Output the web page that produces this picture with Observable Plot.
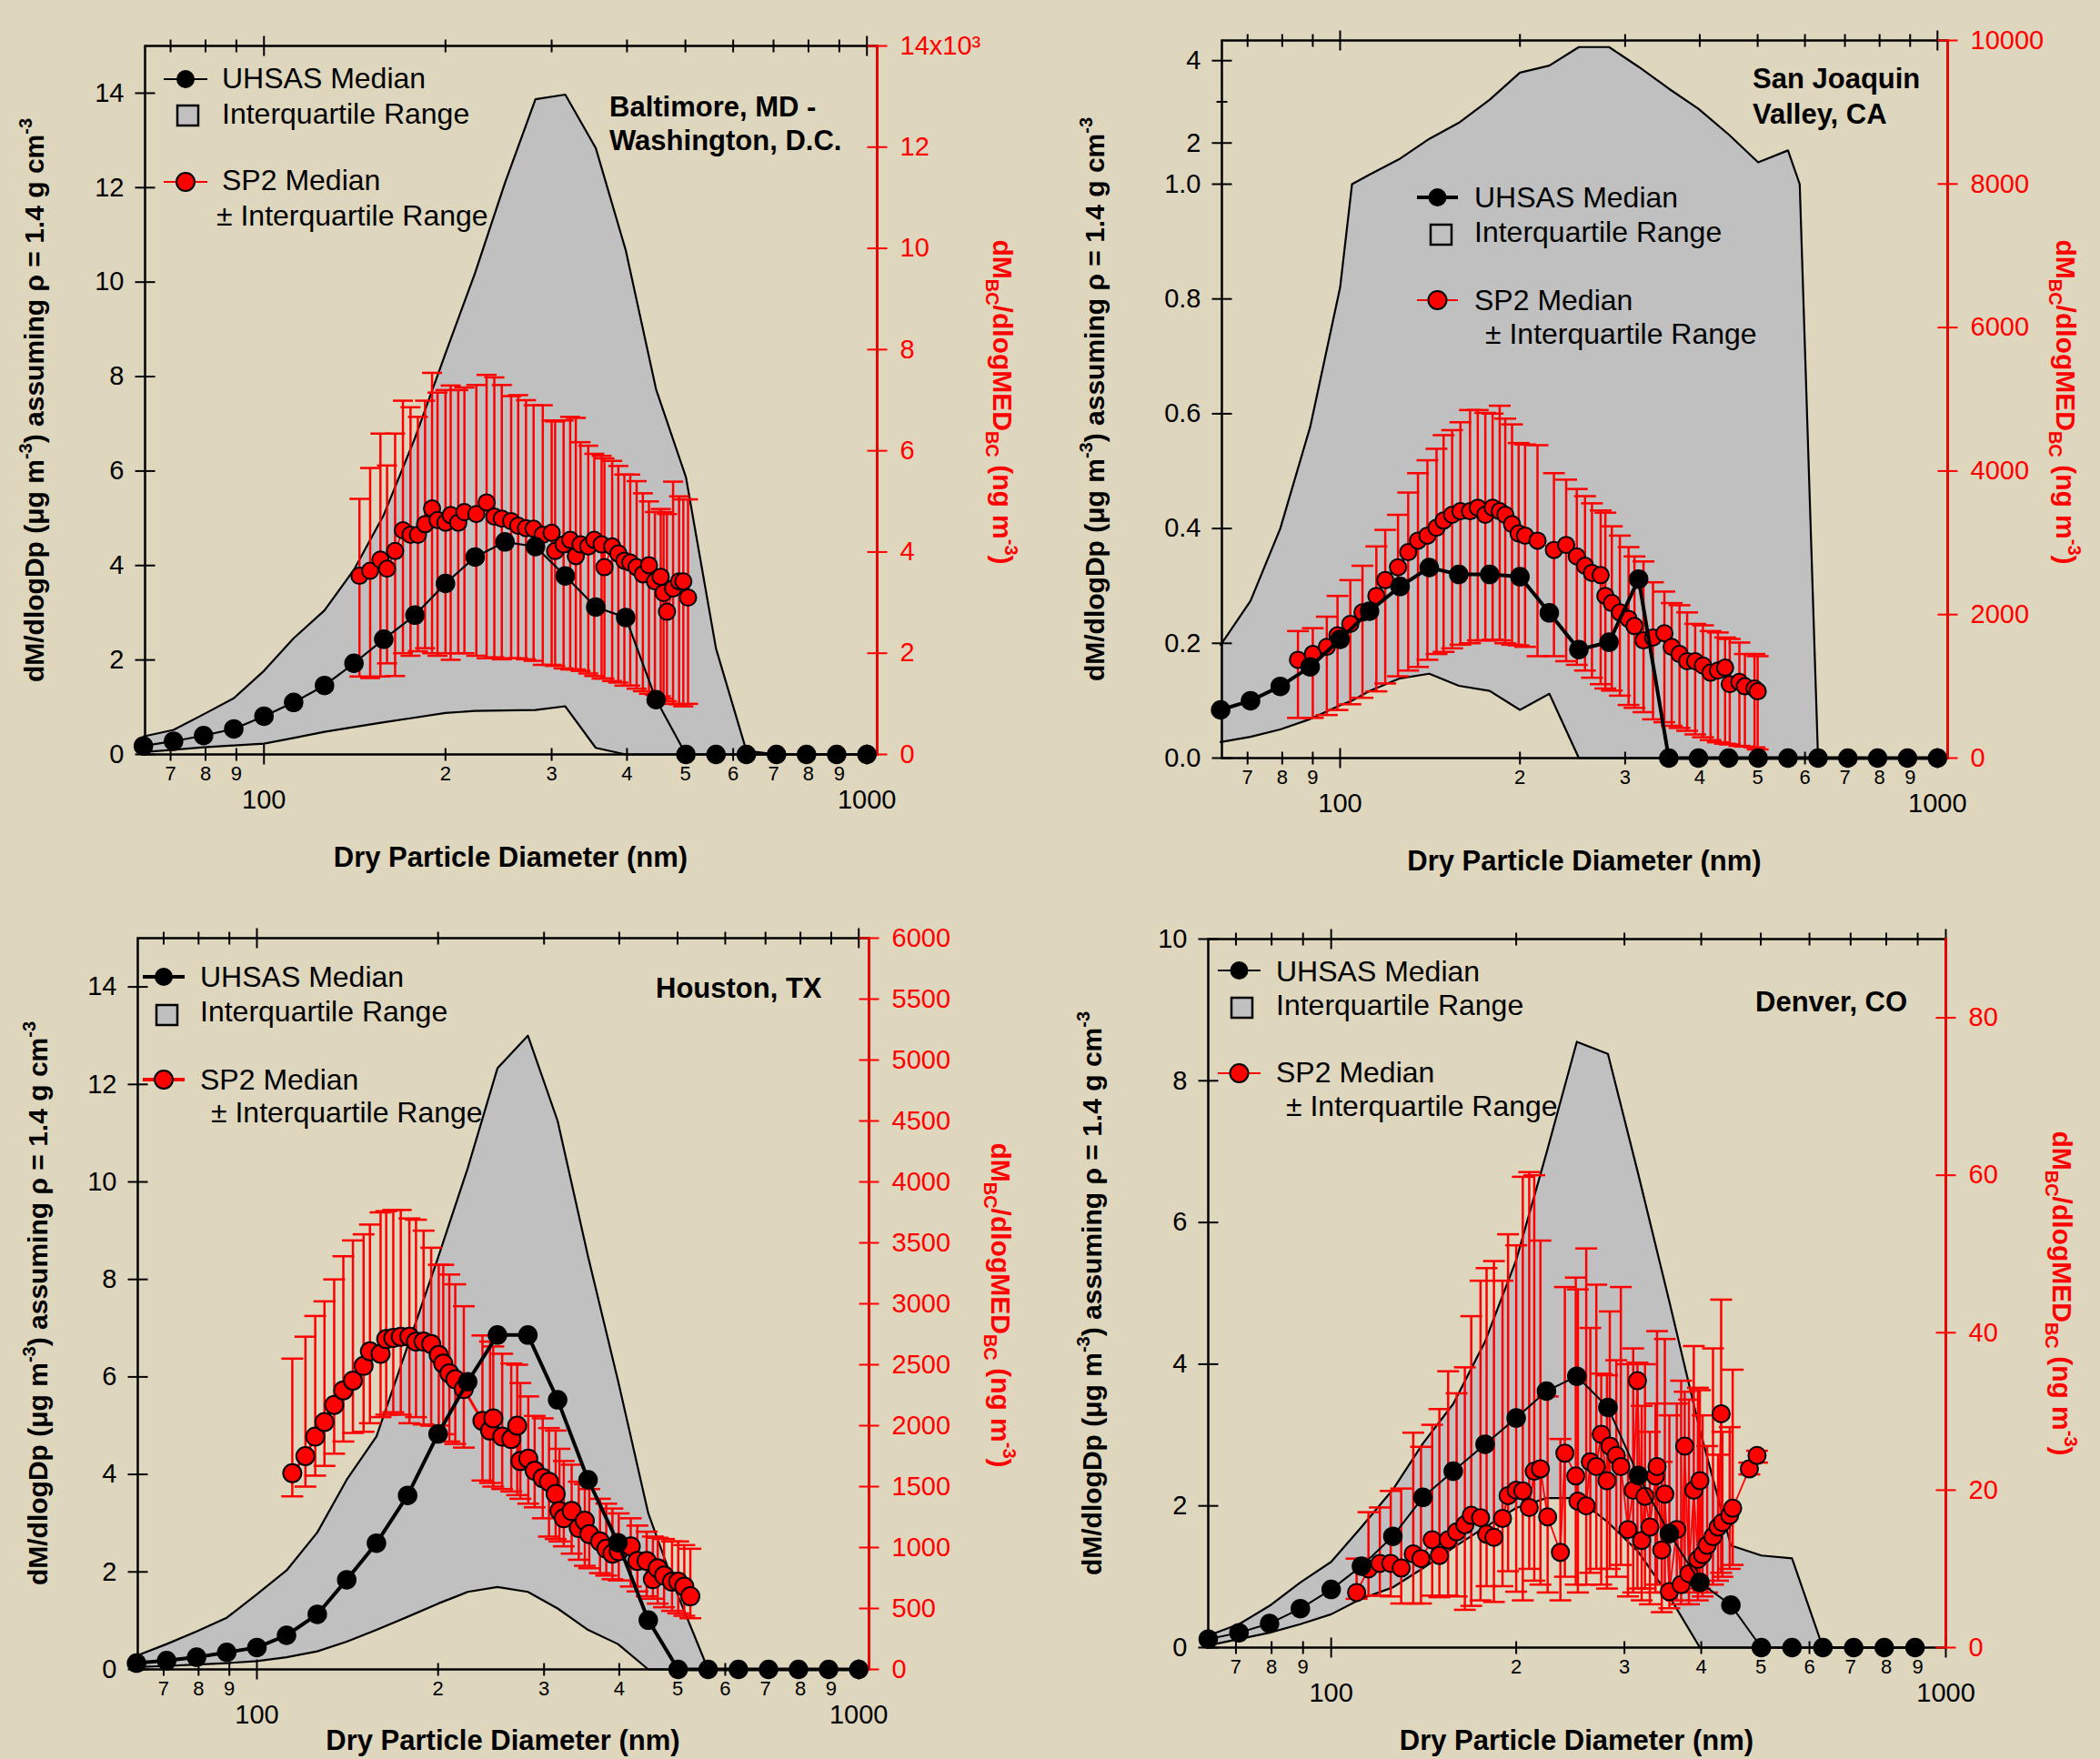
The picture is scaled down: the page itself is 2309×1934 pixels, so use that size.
<!DOCTYPE html>
<html>
<head>
<meta charset="utf-8">
<script src="https://cdn.jsdelivr.net/npm/d3@7"></script>
<script src="https://cdn.jsdelivr.net/npm/@observablehq/plot@0.6"></script>
<style>
html,body{margin:0;padding:0;background:#dfd6be;}
#root{position:relative;width:2309px;height:1934px;overflow:hidden;background:#dfd6be;}
#root svg{position:absolute;left:0;top:0;}
</style>
</head>
<body>
<div id="root"></div>
<script>
// ---------------- DATA ----------------
const uhsasDiam = [63.1,70.8,79.4,89.1,100,112,126,141,158,178,200,224,251,282,316,355,398,447,501,562,631,708,794,891,1000];
const xMinorTicks = [70,80,90,200,300,400,500,600,700,800,900];
const xMajorTicks = [100,1000];

// Baltimore, MD - Washington, D.C.
const baltUhsasMed = [0.18,0.28,0.40,0.54,0.81,1.10,1.46,1.93,2.44,2.95,3.62,4.18,4.50,4.40,3.78,3.12,2.90,1.16,0,0,0,0,0,0,0];
const baltUhsasQ3  = [0.38,0.52,0.85,1.19,1.77,2.46,3.05,3.91,5.07,6.70,8.49,10.2,12.1,13.87,13.97,12.84,10.68,7.73,5.87,2.24,0.08,0,0,0,0];
const baltUhsasQ1  = [0.05,0.10,0.15,0.19,0.23,0.35,0.48,0.58,0.68,0.78,0.88,0.92,0.93,0.94,1.02,0.14,0,0,0,0,0,0,0,0,0];
const baltSp2Diam = [144,150,156,160,165,170,175,180,185,190,194,200,204,210,215,225,234,241,248,257,264,272,280,290,300,304,314,322,329,335,345,353,363,367,378,387,396,405,415,425,435,445,455,460,466,477,488,496,505];
const baltSp2Med  = [3530,3630,3850,3670,4020,4430,4340,4340,4550,4860,4630,4580,4730,4580,4790,4750,4980,4700,4660,4610,4520,4470,4460,4340,4380,4020,4150,4240,3920,4150,4110,4240,4150,3700,4110,3970,3830,3790,3700,3560,3740,3420,3510,3190,2820,3280,3420,3420,3100];
const baltSp2Q1   = [1540,1510,1540,1800,1550,2000,1950,2040,2100,2000,1950,2000,1870,2000,2000,1950,1900,1920,1880,1900,1900,1880,1850,1770,1770,1750,1700,1680,1680,1650,1600,1550,1500,1500,1450,1420,1360,1360,1300,1250,1200,1180,1150,1100,1050,1000,990,950,1000];
const baltSp2Q3   = [5050,5660,6340,5710,6340,6990,6860,6670,6990,7540,7150,7200,7290,7200,7250,7300,7500,7450,7300,7080,7100,7000,6900,6900,6600,6580,6600,6670,6650,6170,6100,5940,5900,5850,5800,5700,5530,5530,5400,5160,5000,4790,4850,4790,4750,5390,5100,5040,5040];
const baltLeftTicks = [0,2,4,6,8,10,12,14];
const baltRightTicks = [0,2000,4000,6000,8000,10000,12000,14000];

// San Joaquin Valley, CA
const sjvUhsasMed = [0.084,0.100,0.125,0.159,0.207,0.256,0.299,0.332,0.320,0.320,0.316,0.253,0.189,0.202,0.312,0,0,0,0,0,0,0,0,0,0];
const sjvBandDiam = [63.1,70.8,79.4,89.1,100,104.7,112,126,141,158,178,200,224,251,282,316,355,398,447,501,562,588,631,708,794,891,1000];
const sjvUhsasQ3  = [0.197,0.274,0.40,0.577,0.82,1.0,1.23,1.62,2.10,2.49,3.05,3.71,3.88,4.33,4.33,3.85,3.32,2.83,2.21,1.53,1.82,1.0,0,0,0,0,0];
const sjvUhsasQ1  = [0.028,0.037,0.05,0.068,0.092,0.10,0.117,0.139,0.147,0.126,0.117,0.084,0.112,0,0,0,0,0,0,0,0,0,0,0,0,0,0];
const sjvSp2Diam = [85,90,95,99,104,109,115,119,125,130,135,140,145,149,154,159,165,170,175,180,185,189,194,199,204,214,228,239,249,257,264,273,278,285,294,304,311,322,334,349,359,370,381,393,405,417,429,441,449,466,476,494,500];
const sjvSp2Med  = [1370,1450,1550,1710,1870,2030,2260,2480,2660,2870,3030,3100,3210,3310,3390,3440,3440,3490,3390,3490,3440,3390,3260,3130,3100,3030,2900,2970,2810,2680,2580,2550,2260,2160,2030,1940,1840,1640,1680,1740,1550,1450,1350,1350,1290,1190,1220,1260,1030,1060,1000,970,930];
const sjvSp2Q3   = [1770,1810,1970,2260,2480,2680,2950,3180,3390,3700,3970,4150,4310,4500,4570,4680,4850,4850,4810,4800,4910,4730,4650,4390,4370,4360,3970,3880,3750,3650,3550,3450,3420,3230,3100,2940,2810,2740,2450,2320,2160,2130,2030,1870,1850,1770,1750,1680,1660,1610,1450,1450,1420];
const sjvSp2Q1   = [560,560,600,670,750,840,930,1040,1140,1220,1270,1370,1450,1480,1530,1580,1600,1640,1640,1650,1640,1600,1580,1570,1550,1420,1420,1350,1300,1220,1120,1030,970,940,870,740,700,640,540,500,450,420,380,330,290,250,220,200,190,170,160,150,120];
const sjvLeftTicks = [0,0.2,0.4,0.6,0.8,1.0,2,4];
const sjvLeftMinor = [3];
const sjvRightTicks = [0,2000,4000,6000,8000,10000];

// Houston, TX
const houUhsasMed = [0.13,0.18,0.25,0.35,0.45,0.70,1.13,1.84,2.59,3.57,4.83,5.90,6.86,6.86,5.53,3.89,2.60,1.01,0,0,0,0,0,0,0];
const houUhsasQ3  = [0.28,0.52,0.78,1.06,1.54,2.03,2.81,3.89,4.78,6.63,8.45,10.28,12.33,13.0,11.25,8.47,5.93,3.20,1.51,0,0,0,0,0,0];
const houUhsasQ1  = [0.05,0.07,0.10,0.13,0.17,0.25,0.37,0.57,0.81,1.08,1.35,1.59,1.69,1.59,1.25,0.81,0.52,0,0,0,0,0,0,0,0];
const houSp2Diam = [114.5,120.4,125,129.5,134.4,139.2,144.4,150.4,154.1,160.5,164,168.5,173.4,179.2,183.8,189.2,194.8,200.5,204,208.8,213.6,220.7,237,244,247,255.6,264.6,270.7,274,282.4,289.4,298.5,305.7,313.6,318.2,323.5,333.4,342.6,350.6,356.6,371.6,380.6,389.7,399.2,418,428.7,444.2,454.9,463.4,474.8,489.5,501.2,513,525];
const houSp2Med  = [1610,1750,1910,2030,2170,2290,2370,2490,2610,2590,2710,2720,2730,2730,2690,2690,2670,2580,2510,2430,2380,2300,2040,1960,2060,1910,1890,2000,1710,1730,1630,1570,1540,1440,1300,1240,1300,1160,1220,1110,1050,990,950,970,1010,890,890,740,830,770,720,720,680,600];
const houSp2Q3   = [2550,2730,2900,3020,3200,3390,3520,3570,3650,3750,3760,3770,3770,3700,3690,3600,3460,3320,3320,3240,3160,2980,2740,2690,2650,2590,2510,2500,2350,2240,2080,2060,1980,1960,1810,1710,1680,1540,1520,1480,1400,1360,1320,1280,1240,1180,1130,1090,1080,1070,1050,1050,1020,990];
const houSp2Q1   = [1420,1500,1590,1670,1770,1870,1940,1950,2020,2070,2090,2110,2090,2020,2070,2010,2000,2000,1930,1870,1850,1820,1550,1530,1500,1480,1460,1430,1400,1360,1330,1240,1090,1070,1050,1010,950,900,850,830,790,770,740,730,680,640,600,580,540,510,480,460,440,420];
const houLeftTicks = [0,2,4,6,8,10,12,14];
const houRightTicks = [0,500,1000,1500,2000,2500,3000,3500,4000,4500,5000,5500,6000];

// Denver, CO
const denUhsasDiam = [63.1,70.8,79.4,89.1,100,112,126,141,158,178,200,224,251,282,316,355,398,447,501,562,631,708,794,891];
const denUhsasMed = [0.12,0.21,0.34,0.55,0.82,1.15,1.57,2.12,2.49,2.87,3.24,3.62,3.83,3.39,2.43,1.61,0.92,0.60,0,0,0,0,0,0];
const denUhsasQ3  = [0.17,0.33,0.59,0.92,1.21,1.70,2.23,2.88,3.44,4.32,5.47,6.98,8.55,8.38,6.68,4.88,3.07,1.44,1.30,1.26,0,0,0,0];
const denUhsasQ1  = [0.03,0.12,0.21,0.33,0.47,0.69,0.85,1.12,1.41,1.70,1.97,2.11,2.11,1.77,1.35,0.72,0,0,0,0,0,0,0,0];
const denSp2Diam = [110,115,120,125,130,136,140,146,150,155,160,165,169,175,179,184,190,194,200,205,210,214,219,225,236,240,250,252,260,264,270,275,281,284,291,296,304,310,315,320,324,330,337,339,345,349,355,365,371,376,382,389,395,398,402,409,418,426,431,433,445,450,479,493];
const denSp2Med  = [7.0,10.0,10.7,10.7,10.1,11.9,11.3,13.7,11.7,13.7,14.7,15.6,16.8,16.5,14.4,14.0,16.4,19.3,20.0,19.9,17.8,22.4,22.7,16.6,12.1,24.7,21.8,18.6,18.0,23.6,23.0,27.1,21.2,25.6,24.4,23.0,15.0,20.0,33.9,13.6,19.2,15.3,21.8,23.0,12.4,19.5,7.1,15.0,8.0,25.6,9.4,20.0,11.2,21.2,11.8,13.0,14.1,15.3,29.7,15.9,16.8,17.7,22.7,24.4];
const denSp2Q3   = [11.3,17.2,17.8,19.9,20.2,27.3,25.5,28.3,30.3,35.1,32.3,35.6,42.1,46.6,48.2,49.1,46.6,52.5,51.1,59.8,60.4,60.0,51.7,31.9,26.5,45.8,47.0,45.5,50.7,40.6,46.1,34.8,34.6,42.7,36.5,45.8,36.0,38.0,36.2,30.7,36.0,27.4,31.0,40.2,23.6,39.2,29.5,31.0,33.9,32.5,31.5,38.3,33.0,32.7,29.5,25.6,38.0,24.5,44.2,27.4,28.0,35.3,23.5,25.0];
const denSp2Q1   = [6.2,6.6,6.6,6.5,5.6,5.6,5.6,6.6,6.4,6.6,6.5,4.8,5.3,6.0,7.8,5.8,7.8,9.7,7.1,6.0,10.0,8.5,8.0,7.0,6.0,9.0,8.0,7.0,8.0,9.5,10.0,8.0,7.5,10.0,9.0,10.5,6.5,7.0,7.5,6.0,7.5,5.5,7.0,8.0,4.5,7.0,5.0,6.0,5.5,8.0,5.5,7.0,6.0,7.5,6.5,7.0,8.0,8.5,9.5,9.0,10.0,10.5,22.0,23.5];
const denLeftTicks = [0,2,4,6,8,10];
const denRightTicks = [0,20,40,60,80];

// ---------------- RENDER ----------------
const W = 2309, H = 1934;
const FONT = "'Liberation Sans', Arial, Helvetica, sans-serif";
const GRAY = "#c0c0c0";
const RED = "#ff0000";
const hbar = {draw(ctx, s){const r = Math.sqrt(s/Math.PI); ctx.moveTo(-r,0); ctx.lineTo(r,0);}};
const vbar = {draw(ctx, s){const r = Math.sqrt(s/Math.PI); ctx.moveTo(0,-r); ctx.lineTo(0,r);}};
const root = document.getElementById("root");
const minorFmt = d => d < 100 ? String(d/10) : String(d/100);

function common(c){
  return {width:W, height:H, marginLeft:c.L, marginRight:W-c.R, marginTop:c.T, marginBottom:H-c.B,
    style:{background:"transparent", overflow:"visible", maxWidth:"none", fontFamily:FONT, color:"black"}};
}
function yLeft(c){
  const s = {type:"linear", domain:c.yLeftDomain, label:null};
  if (c.yLeftRange) s.range = c.yLeftRange;
  return s;
}

function drawPanel(c){
  const band = c.bandDiam.map((d,i)=>({d, lo:c.bandLo[i], hi:c.bandHi[i]}));
  const uh = c.uhDiam.map((d,i)=>({d, v:c.uhMed[i]}));
  const sp = c.spDiam.map((d,i)=>({d, v:c.spMed[i], lo:c.spLo[i], hi:c.spHi[i]}));
  const xs = {type:"log", domain:c.xDomain, label:null};

  const base = Plot.plot({...common(c), x:xs, y:yLeft(c), marks:[
    Plot.areaY(band, {x:"d", y1:"lo", y2:"hi", fill:GRAY}),
    Plot.line(band, {x:"d", y:"hi", stroke:"black", strokeWidth:2.2}),
    Plot.line(band, {x:"d", y:"lo", stroke:"black", strokeWidth:2.2}),
    Plot.frame({stroke:"black", strokeWidth:2.5}),
    Plot.dot(xMinorTicks, {x:d=>d, frameAnchor:"bottom", symbol:vbar, r:7, stroke:"black", strokeWidth:2, fill:"none"}),
    Plot.dot(xMajorTicks, {x:d=>d, frameAnchor:"bottom", symbol:vbar, r:11, stroke:"black", strokeWidth:2, fill:"none"}),
    Plot.dot(xMinorTicks, {x:d=>d, frameAnchor:"top", symbol:vbar, r:7, stroke:"black", strokeWidth:2, fill:"none"}),
    Plot.dot(xMajorTicks, {x:d=>d, frameAnchor:"top", symbol:vbar, r:11, stroke:"black", strokeWidth:2, fill:"none"}),
    Plot.dot(c.leftTicks, {y:d=>d, frameAnchor:"left", symbol:hbar, r:11, stroke:"black", strokeWidth:2, fill:"none"}),
    Plot.dot(c.leftMinor || [], {y:d=>d, frameAnchor:"left", symbol:hbar, r:6, stroke:"black", strokeWidth:2, fill:"none"}),
    Plot.text(xMinorTicks, {x:d=>d, text:minorFmt, frameAnchor:"bottom", lineAnchor:"top", dy:13, fontSize:22, fill:"black"}),
    Plot.axisX(xMajorTicks, {anchor:"bottom", tickSize:0, tickPadding:39, fontSize:29, tickFormat:d=>String(d), label:null}),
    Plot.axisY(c.leftTicks, {anchor:"left", tickSize:0, tickPadding:23, fontSize:29, tickFormat:c.leftFmt, label:null})
  ]});

  const red = Plot.plot({...common(c), x:{...xs, axis:null}, y:{type:"linear", domain:c.yRightDomain, label:null, axis:null}, marks:[
    Plot.ruleX(sp, {x:"d", y1:"lo", y2:"hi", stroke:RED, strokeWidth:2.5}),
    Plot.dot(sp, {x:"d", y:"hi", symbol:hbar, r:c.cap, stroke:RED, strokeWidth:2.5, fill:"none"}),
    Plot.dot(sp, {x:"d", y:"lo", symbol:hbar, r:c.cap, stroke:RED, strokeWidth:2.5, fill:"none"}),
    Plot.line(sp, {x:"d", y:"v", stroke:RED, strokeWidth:c.redW}),
    Plot.dot(sp, {x:"d", y:"v", r:c.redR, fill:RED, stroke:"black", strokeWidth:2}),
    Plot.frame({anchor:"right", stroke:RED, strokeWidth:2.5}),
    Plot.dot(c.rightTicks, {y:d=>d, frameAnchor:"right", symbol:hbar, r:11, stroke:RED, strokeWidth:2, fill:"none"}),
    Plot.axisY(c.rightTicks, {anchor:"right", tickSize:0, tickPadding:25, fontSize:29, fill:RED, tickFormat:c.rightFmt, label:null})
  ]});

  const blk = Plot.plot({...common(c), x:{...xs, axis:null}, y:{...yLeft(c), axis:null}, marks:[
    Plot.line(uh, {x:"d", y:"v", stroke:"black", strokeWidth:c.blackW}),
    Plot.dot(uh, {x:"d", y:"v", r:10, fill:"black", stroke:"black"})
  ]});

  root.append(base, red, blk);
}

const panels = [
  {L:159, R:964, T:50, B:829, xDomain:[63.5,1040], yLeftDomain:[0,15], yRightDomain:[0,14000],
   bandDiam:uhsasDiam, bandLo:baltUhsasQ1, bandHi:baltUhsasQ3, uhDiam:uhsasDiam, uhMed:baltUhsasMed,
   spDiam:baltSp2Diam, spMed:baltSp2Med, spLo:baltSp2Q1, spHi:baltSp2Q3,
   leftTicks:baltLeftTicks, leftFmt:d=>String(d), rightTicks:baltRightTicks,
   rightFmt:d=> d===14000 ? "14x10\u00b3" : String(d/1000), cap:11, redR:9, redW:1.8, blackW:2.2},
  {L:1343, R:2141, T:44, B:833, xDomain:[63.4,1040], yLeftDomain:[0,1,4.49], yLeftRange:[833,202,44], yRightDomain:[0,10000],
   bandDiam:sjvBandDiam, bandLo:sjvUhsasQ1, bandHi:sjvUhsasQ3, uhDiam:uhsasDiam, uhMed:sjvUhsasMed,
   spDiam:sjvSp2Diam, spMed:sjvSp2Med, spLo:sjvSp2Q1, spHi:sjvSp2Q3,
   leftTicks:sjvLeftTicks, leftMinor:sjvLeftMinor, leftFmt:d=> d<=1 ? d.toFixed(1) : String(d), rightTicks:sjvRightTicks,
   rightFmt:d=>String(d), cap:12, redR:9, redW:1.8, blackW:4},
  {L:151, R:955, T:1031, B:1835, xDomain:[63.4,1040], yLeftDomain:[0,15], yRightDomain:[0,6000],
   bandDiam:uhsasDiam, bandLo:houUhsasQ1, bandHi:houUhsasQ3, uhDiam:uhsasDiam, uhMed:houUhsasMed,
   spDiam:houSp2Diam, spMed:houSp2Med, spLo:houSp2Q1, spHi:houSp2Q3,
   leftTicks:houLeftTicks, leftFmt:d=>String(d), rightTicks:houRightTicks,
   rightFmt:d=>String(d), cap:12, redR:10, redW:3, blackW:4},
  {L:1328, R:2139, T:1032, B:1811, xDomain:[63.1,1000], yLeftDomain:[0,10], yRightDomain:[0,90],
   bandDiam:denUhsasDiam, bandLo:denUhsasQ1, bandHi:denUhsasQ3, uhDiam:denUhsasDiam, uhMed:denUhsasMed,
   spDiam:denSp2Diam, spMed:denSp2Med, spLo:denSp2Q1, spHi:denSp2Q3,
   leftTicks:denLeftTicks, leftFmt:d=>String(d), rightTicks:denRightTicks,
   rightFmt:d=>String(d), cap:12, redR:9.5, redW:1.8, blackW:2}
];
panels.forEach(drawPanel);

// ---------------- TEXT OVERLAY ----------------
const ov = d3.select(root).append("svg").attr("width",W).attr("height",H)
  .attr("font-family",FONT).style("overflow","hidden");

function legend(g){
  ov.append("line").attr("x1",g.lx1).attr("x2",g.lx2).attr("y1",g.y1).attr("y2",g.y1).attr("stroke","black").attr("stroke-width",g.bw);
  ov.append("circle").attr("cx",(g.lx1+g.lx2)/2).attr("cy",g.y1).attr("r",10).attr("fill","black");
  ov.append("text").attr("x",g.tx).attr("y",g.b1).attr("font-size",32).text("UHSAS Median");
  ov.append("rect").attr("x",g.sx).attr("y",g.sy).attr("width",23).attr("height",22).attr("fill",GRAY).attr("stroke","black").attr("stroke-width",2.5);
  ov.append("text").attr("x",g.tx).attr("y",g.b2).attr("font-size",32).text("Interquartile Range");
  ov.append("line").attr("x1",g.lx1).attr("x2",g.lx2).attr("y1",g.y3).attr("y2",g.y3).attr("stroke",RED).attr("stroke-width",g.rw);
  ov.append("circle").attr("cx",(g.lx1+g.lx2)/2).attr("cy",g.y3).attr("r",10).attr("fill",RED).attr("stroke","black").attr("stroke-width",2);
  ov.append("text").attr("x",g.tx).attr("y",g.b3).attr("font-size",32).text("SP2 Median");
  ov.append("text").attr("x",g.px).attr("y",g.b4).attr("font-size",32).text("\u00b1 Interquartile Range");
}
legend({lx1:180,lx2:228,y1:87,tx:244,b1:97,sx:195,sy:116,b2:136,y3:200,b3:209,px:238,b4:248,bw:2,rw:2});
legend({lx1:1558,lx2:1603,y1:217,tx:1621,b1:228,sx:1573,sy:247,b2:266,y3:330,b3:341,px:1633,b4:378,bw:4,rw:2});
legend({lx1:157,lx2:203,y1:1074,tx:220,b1:1085,sx:172,sy:1105,b2:1123,y3:1187,b3:1198,px:232,b4:1234,bw:4,rw:4});
legend({lx1:1339,lx2:1386,y1:1067,tx:1403,b1:1079,sx:1354,sy:1097,b2:1116,y3:1180,b3:1190,px:1414,b4:1227,bw:2,rw:2});

function title(x, ys, lines){
  lines.forEach((s,i)=> ov.append("text").attr("x",x).attr("y",ys[i]).attr("font-size",31).attr("font-weight","bold").text(s));
}
title(670,[128,165],["Baltimore, MD -","Washington, D.C."]);
title(1927,[97,136],["San Joaquin","Valley, CA"]);
title(721,[1097],["Houston, TX"]);
title(1930,[1112],["Denver, CO"]);

function xTitle(cx, by){
  ov.append("text").attr("x",cx).attr("y",by).attr("text-anchor","middle").attr("font-size",31).attr("font-weight","bold").text("Dry Particle Diameter (nm)");
}
xTitle((159+964)/2, 953);
xTitle((1343+2141)/2, 957);
xTitle((151+955)/2, 1924);
xTitle((1328+2139)/2, 1924);

function leftTitle(x, cy){
  const t = ov.append("text").attr("transform",`translate(${x},${cy}) rotate(-90)`).attr("text-anchor","middle")
    .attr("font-size",30).attr("font-weight","bold").attr("fill","black");
  t.append("tspan").text("dM/dlogDp (\u03bcg m");
  t.append("tspan").attr("dy",-13).attr("font-size",20).text("-3");
  t.append("tspan").attr("dy",13).text(") assuming \u03c1 = 1.4 g cm");
  t.append("tspan").attr("dy",-13).attr("font-size",20).text("-3");
}
leftTitle(48, 440);
leftTitle(1214, 439);
leftTitle(52, 1433);
leftTitle(1211, 1422);

function rightTitle(x, cy){
  const t = ov.append("text").attr("transform",`translate(${x},${cy}) rotate(90)`).attr("text-anchor","middle")
    .attr("font-size",30).attr("font-weight","bold").attr("fill",RED);
  t.append("tspan").text("dM");
  t.append("tspan").attr("dy",8).attr("font-size",20).text("BC");
  t.append("tspan").attr("dy",-8).text("/dlogMED");
  t.append("tspan").attr("dy",8).attr("font-size",20).text("BC");
  t.append("tspan").attr("dy",-8).text(" (ng m");
  t.append("tspan").attr("dy",-13).attr("font-size",20).text("-3");
  t.append("tspan").attr("dy",13).text(")");
}
rightTitle(1092, 442);
rightTitle(2261, 442);
rightTitle(1090, 1435);
rightTitle(2257, 1422);
</script>
</body>
</html>
